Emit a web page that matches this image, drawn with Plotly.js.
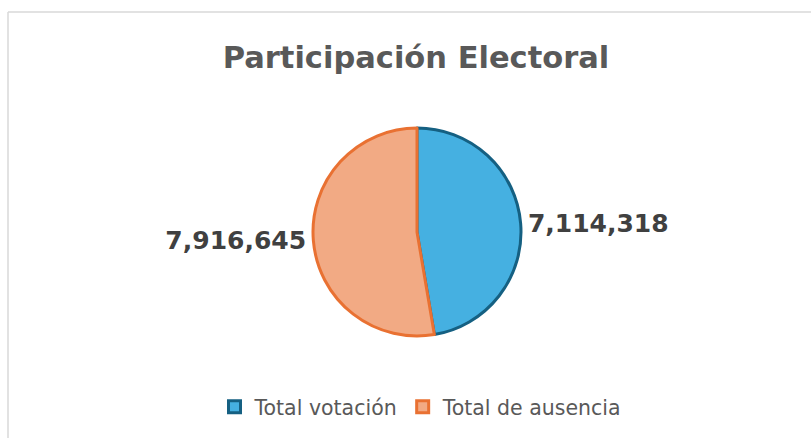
<!DOCTYPE html>
<html>
<head>
<meta charset="utf-8">
<script src="https://cdn.plot.ly/plotly-3.0.1.min.js"></script>
<style>html,body{margin:0;padding:0;background:#fff;}#chart{width:811px;height:438px;}</style>
</head>
<body>
<div id="chart"></div>
<script>
const labels = ["Total votación", "Total de ausencia"];
const values = [7114318, 7916645];
const fillColors = ["#45B0E1", "#F2AA84"];
const lineColors = ["#156082", "#E97132"];
const chartTitle = "Participación Electoral";

const trace = {
  type: "pie",
  labels: labels,
  values: values,
  sort: false,
  direction: "clockwise",
  rotation: 0,
  marker: { colors: fillColors, line: { color: lineColors, width: 3 } },
  texttemplate: "%{value:,}",
  textposition: "outside",
  textfont: { family: "DejaVu Sans, sans-serif", size: 25, color: "#404040", weight: "bold" },
  hoverinfo: "label+value",
  domain: { x: [313/811, 521/811], y: [1 - 336/438, 1 - 128/438] },
  automargin: false
};

const layout = {
  width: 811, height: 438,
  margin: { l: 0, r: 0, t: 0, b: 0 },
  paper_bgcolor: "#ffffff",
  title: {
    text: "<b>" + chartTitle + "</b>",
    x: 416/811, xanchor: "center",
    y: 1 - 57/438, yanchor: "middle",
    font: { family: "DejaVu Sans, sans-serif", size: 30.5, color: "#595959" }
  },
  showlegend: true,
  legend: {
    orientation: "h",
    x: 421/811, xanchor: "center",
    y: 1 - 407/438, yanchor: "middle",
    font: { family: "DejaVu Sans, sans-serif", size: 20.5, color: "#595959" },
    itemwidth: 30,
    traceorder: "normal"
  },
  shapes: [
    { type: "line", xref: "paper", yref: "paper", x0: 8/811, x1: 8/811, y0: 0, y1: 1 - 12/438, line: { color: "#D9D9D9", width: 1.5 } },
    { type: "line", xref: "paper", yref: "paper", x0: 8/811, x1: 1, y0: 1 - 12/438, y1: 1 - 12/438, line: { color: "#D9D9D9", width: 1.5 } }
  ]
};

Plotly.newPlot("chart", [trace], layout, { displayModeBar: false, staticPlot: true });
</script>
</body>
</html>
